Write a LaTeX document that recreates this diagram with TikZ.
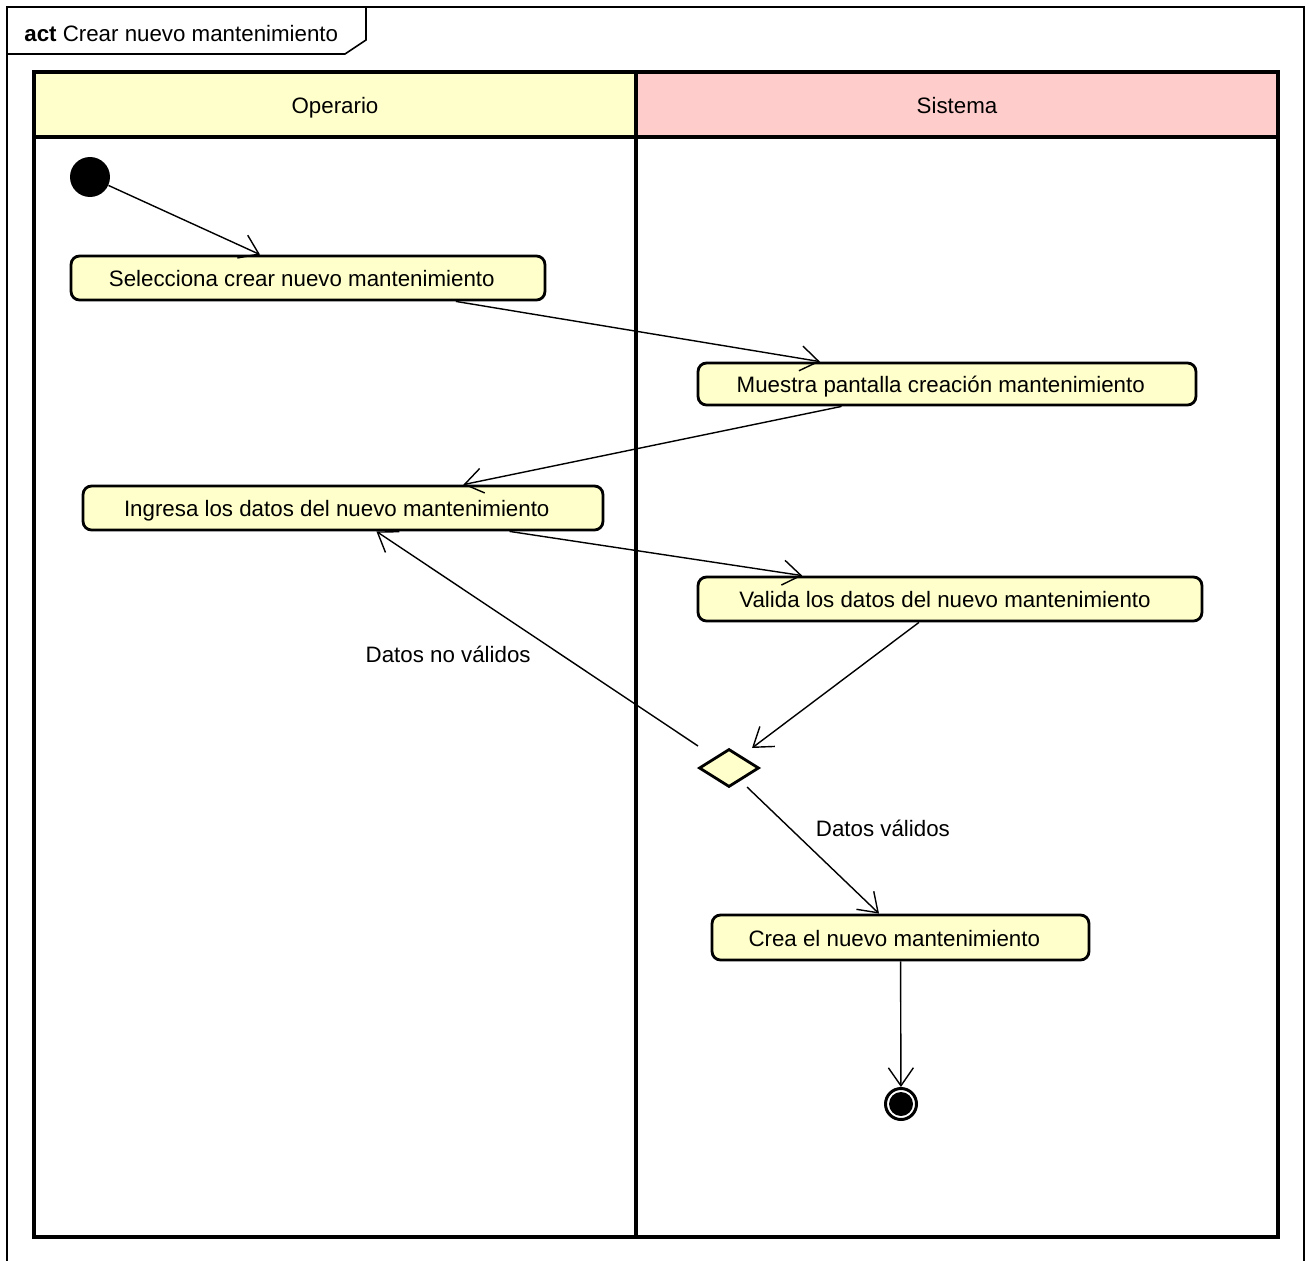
\documentclass[tikz,border=0pt]{standalone}
\usepackage{fontspec}
\setmainfont{Liberation Sans}
\usetikzlibrary{arrows.meta, shapes.geometric, positioning}
\definecolor{actfill}{RGB}{255,255,204}
\definecolor{sisfill}{RGB}{255,204,204}

\begin{document}
\begin{tikzpicture}[x=0.02cm,y=-0.02cm,align=center,font=\fontsize{12.7}{15}\selectfont]
\tikzstyle{lanehead}=[draw=black,line width=2pt,minimum width=12.04cm,minimum height=1.3cm,inner sep=0pt,text height=2ex,text depth=0ex]
\tikzstyle{lane}=[draw=black,line width=2pt]
\tikzstyle{action}=[draw=black,fill=actfill,rounded corners=0.17cm,line width=1.6pt,minimum height=0.88cm,inner sep=0pt,text height=1.9ex,text depth=0ex]
\tikzstyle{decision}=[diamond,draw=black,fill=actfill,line width=1.6pt,minimum width=1.2cm,minimum height=0.76cm,inner sep=0pt]
\tikzstyle{initial}=[circle,fill=black,minimum size=0.8cm,inner sep=0pt]
\tikzstyle{final}=[circle,draw=black,fill=white,line width=1.7pt,minimum size=0.62cm,inner sep=0pt,
  path picture={\fill[black] (path picture bounding box.center) circle (0.24cm);}]
\tikzstyle{flow}=[-{Straight Barb[length=0.36cm,width=0.5cm]},line width=0.8pt]

\useasboundingbox (0,0) rectangle (1309,1261);

% frame and title tab
\draw[line width=0.9pt] (7,1261) -- (7,7) -- (1304,7) -- (1304,1261);
\draw[line width=0.9pt] (7,54) -- (345,54) -- (366,40) -- (366,7);
\node[anchor=west,inner sep=0pt] (title) at (24,34) {\textbf{act} Crear nuevo mantenimiento};

% swimlanes
\node[lanehead,fill=actfill] (op) at (335,104.5) {Operario};
\node[lanehead,fill=sisfill,minimum width=12.84cm] (sis) at (957,104.5) {Sistema};
\draw[lane] (34,137) rectangle (636,1237);
\draw[lane] (636,137) rectangle (1278,1237);

% nodes
\node[initial] (ini) at (90,177) {};
\node[action,minimum width=9.48cm] (a1) at (308,278) {\hspace{-0.25cm}Selecciona crear nuevo mantenimiento};
\node[action,minimum width=9.96cm,minimum height=0.84cm] (a2) at (947,384) {\hspace{-0.25cm}Muestra pantalla creación mantenimiento};
\node[action,minimum width=10.4cm] (a3) at (343,508) {\hspace{-0.25cm}Ingresa los datos del nuevo mantenimiento};
\node[action,minimum width=10.08cm] (a4) at (950,599) {\hspace{-0.2cm}Valida los datos del nuevo mantenimiento};
\node[decision] (d1) at (729,768) {};
\node[action,minimum width=7.54cm,minimum height=0.9cm] (a5) at (900.5,937.5) {\hspace{-0.25cm}Crea el nuevo mantenimiento};
\node[final] (fin) at (901,1104) {};

% transitions
\draw[flow] (ini) -- (a1.154);
\draw[flow] (a1.-9.5) -- (a2.170.8);
\draw[flow] (a2.-168.6) -- (a3.11.6);
\draw[flow] (a3.-8.5) -- (a4.171.2);
\draw[flow] (a4.-143.7) -- ([shift={(23,-20)}]d1.center);
\draw[flow] ([shift={(-31,-22)}]d1.center) -- node[pos=0.5,anchor=north east,xshift=0cm,yshift=-0.02cm] {Datos no válidos} (a3.-35.4);
\draw[flow] ([shift={(18,19)}]d1.center) -- node[pos=0.45,anchor=south west,xshift=0.06cm,yshift=0.02cm] {Datos válidos} (a5.132.3);
\draw[flow] (a5) -- (fin);
\end{tikzpicture}
\end{document}
